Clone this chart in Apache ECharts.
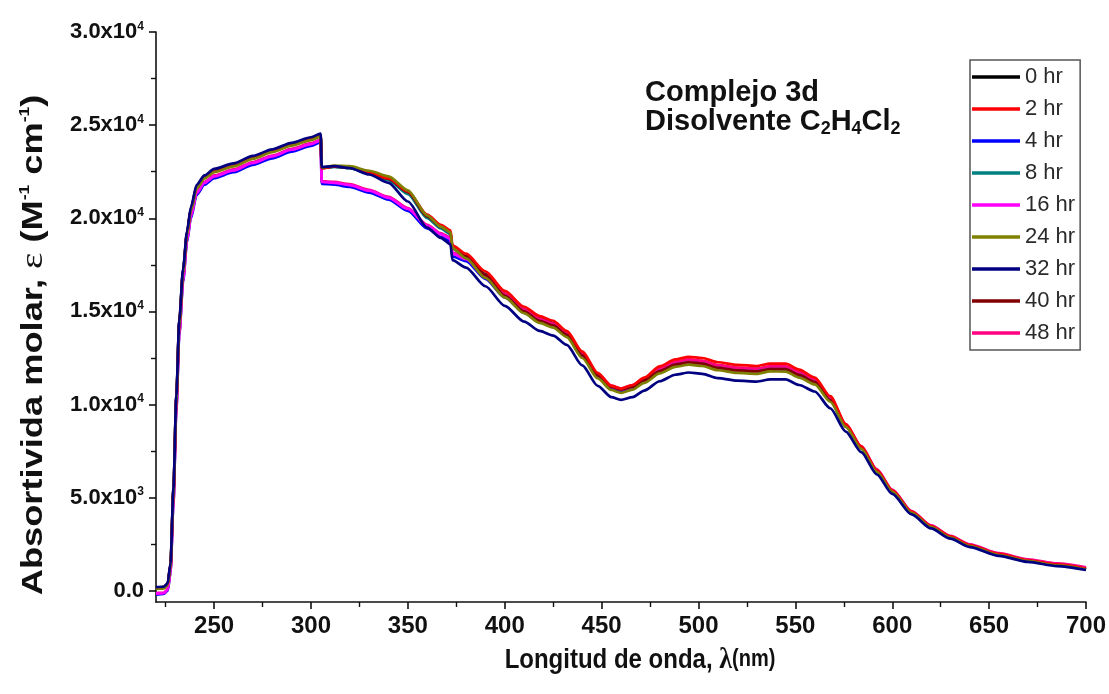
<!DOCTYPE html>
<html>
<head>
<meta charset="utf-8">
<script src="https://cdn.jsdelivr.net/npm/echarts@6/dist/echarts.min.js"></script>
<style>
  html, body { margin: 0; padding: 0; background: #fff; }
  #chart { width: 1109px; height: 694px; }
</style>
</head>
<body>
<div id="chart"></div>
<script>
// Wavelength grid (nm) shared by every spectrum
const wavelength = [220, 224, 226, 227.5, 229, 230.5, 232, 234, 236, 238, 241, 245, 250, 260, 270, 280, 290, 300, 305, 305.5,
  312, 320, 330, 340, 350, 360, 367, 372, 373, 380, 390, 400, 410, 418, 425, 432, 440, 448, 455, 460,
  466, 472, 480, 488, 495, 502, 510, 520, 530, 537, 545, 552, 560, 568, 576, 584, 592, 600, 610, 620,
  630, 640, 655, 670, 685, 700];

// Molar absorptivity (M^-1 cm^-1) for each reaction time
const eps0h = [180, 200, 360, 1400, 5400, 10400, 14400, 17200, 19200, 20500, 21700, 22200, 22550, 22860, 23260, 23610, 23960, 24260, 24450, 22700,
  22770, 22700, 22420, 22100, 21350, 20050, 19500, 19200, 18400, 17950, 17000, 15950, 15100, 14620, 14380, 13850, 12750, 11630, 10950, 10800,
  10980, 11370, 11930, 12280, 12400, 12330, 12100, 11960, 11910, 12030, 12030, 11720, 11320, 10330, 8880, 7700, 6460, 5370, 4220, 3450,
  2890, 2430, 1950, 1610, 1390, 1170];
const eps2h = [120, 150, 330, 1350, 5300, 10300, 14300, 17150, 19150, 20450, 21650, 22170, 22520, 22830, 23230, 23590, 23940, 24240, 24430, 22680,
  22780, 22730, 22480, 22150, 21450, 20200, 19650, 19350, 18550, 18100, 17150, 16100, 15250, 14750, 14500, 13950, 12850, 11700, 11000, 10850,
  11050, 11450, 12050, 12420, 12560, 12500, 12270, 12130, 12070, 12200, 12200, 11880, 11450, 10450, 8950, 7750, 6500, 5400, 4250, 3480,
  2920, 2460, 1980, 1640, 1420, 1200];
const eps4h = [-200, -170, 0, 950, 4700, 9700, 13700, 16600, 18700, 20000, 21250, 21800, 22150, 22470, 22870, 23220, 23580, 23880, 24080, 21850,
  21800, 21680, 21380, 21000, 20400, 19450, 19000, 18750, 17950, 17700, 16750, 15750, 14920, 14430, 14180, 13680, 12580, 11480, 10880, 10730,
  10890, 11240, 11740, 12090, 12210, 12140, 11910, 11770, 11720, 11840, 11840, 11540, 11170, 10220, 8830, 7660, 6430, 5350, 4210, 3440,
  2880, 2420, 1940, 1600, 1380, 1160];
const eps8h = [160, 190, 350, 1380, 5350, 10350, 14350, 17180, 19180, 20480, 21680, 22190, 22540, 22850, 23250, 23600, 23950, 24250, 24440, 22690,
  22760, 22690, 22400, 22050, 21300, 20000, 19450, 19150, 18350, 17900, 16950, 15900, 15050, 14580, 14340, 13810, 12720, 11600, 10920, 10770,
  10940, 11320, 11880, 12230, 12350, 12280, 12050, 11910, 11860, 11980, 11980, 11680, 11280, 10300, 8860, 7680, 6440, 5350, 4200, 3440,
  2880, 2420, 1940, 1600, 1380, 1160];
const eps16h = [-150, -120, 50, 1000, 4800, 9800, 13800, 16700, 18800, 20100, 21350, 21900, 22250, 22570, 22970, 23320, 23680, 23980, 24180, 21950,
  21900, 21780, 21480, 21100, 20500, 19600, 19150, 18900, 18100, 17800, 16850, 15850, 15000, 14500, 14250, 13750, 12650, 11550, 10950, 10800,
  10950, 11300, 11800, 12150, 12270, 12200, 11970, 11830, 11780, 11900, 11900, 11600, 11220, 10280, 8880, 7720, 6490, 5400, 4250, 3490,
  2930, 2470, 1990, 1650, 1430, 1210];
const eps24h = [100, 130, 300, 1300, 5200, 10200, 14200, 17100, 19100, 20400, 21600, 22130, 22480, 22790, 23190, 23550, 23900, 24200, 24400, 22720,
  22830, 22800, 22550, 22250, 21500, 20150, 19550, 19250, 18400, 17850, 16800, 15750, 14900, 14380, 14130, 13620, 12500, 11400, 10780, 10630,
  10800, 11160, 11670, 12020, 12140, 12070, 11840, 11700, 11650, 11780, 11770, 11450, 11080, 10150, 8800, 7620, 6390, 5320, 4180, 3420,
  2860, 2400, 1920, 1590, 1370, 1150];
const eps32h = [200, 220, 400, 1500, 5500, 10500, 14500, 17300, 19300, 20600, 21800, 22300, 22650, 22950, 23350, 23700, 24050, 24350, 24550, 22750,
  22800, 22700, 22350, 21900, 20900, 19500, 18950, 18600, 17750, 17350, 16350, 15300, 14450, 13950, 13700, 13200, 12100, 11000, 10400, 10250,
  10400, 10750, 11250, 11600, 11720, 11650, 11420, 11280, 11230, 11350, 11350, 11050, 10700, 9800, 8550, 7450, 6250, 5200, 4100, 3350,
  2800, 2350, 1880, 1550, 1330, 1120];
const eps40h = [170, 200, 370, 1420, 5420, 10420, 14420, 17220, 19220, 20520, 21720, 22220, 22570, 22870, 23270, 23620, 23970, 24270, 24470, 22710,
  22790, 22720, 22450, 22120, 21400, 20100, 19550, 19250, 18450, 17950, 16950, 15850, 15000, 14500, 14250, 13750, 12650, 11550, 10950, 10800,
  10950, 11300, 11800, 12150, 12270, 12200, 11970, 11830, 11780, 11900, 11900, 11600, 11220, 10250, 8850, 7680, 6450, 5370, 4230, 3460,
  2900, 2440, 1960, 1620, 1400, 1180];
const eps48h = [-120, -100, 80, 1050, 4850, 9850, 13850, 16750, 18850, 20150, 21400, 21950, 22300, 22620, 23020, 23370, 23730, 24030, 24230, 22000,
  21950, 21830, 21520, 21150, 20550, 19650, 19200, 18950, 18150, 17900, 16950, 15950, 15100, 14600, 14350, 13850, 12750, 11650, 11020, 10870,
  11050, 11420, 11950, 12300, 12420, 12350, 12120, 11980, 11930, 12050, 12050, 11750, 11360, 10400, 8950, 7770, 6530, 5440, 4280, 3510,
  2950, 2500, 2020, 1690, 1470, 1260];

const seriesNames = ['0 hr', '2 hr', '4 hr', '8 hr', '16 hr', '24 hr', '32 hr', '40 hr', '48 hr'];
const seriesValues = [eps0h, eps2h, eps4h, eps8h, eps16h, eps24h, eps32h, eps40h, eps48h];
const seriesColors = ['#000000', '#ff0000', '#0000ff', '#008080', '#ff00ff', '#808000', '#000080', '#800000', '#ff0080'];
// Stacking order of the lines (later ones are painted over earlier ones)
const paintOrder = [0, 3, 2, 8, 4, 7, 1, 5, 6];

// Axis ticks and labels
const xMajorTicks = [250, 300, 350, 400, 450, 500, 550, 600, 650, 700];
const xMinorTicks = [225, 275, 325, 375, 425, 475, 525, 575, 625, 675];
const yMajorTicks = [0, 5000, 10000, 15000, 20000, 25000, 30000];
const yMinorTicks = [2500, 7500, 12500, 17500, 22500, 27500];
const yTickMantissa = ['0.0', '5.0', '1.0', '1.5', '2.0', '2.5', '3.0'];
const yTickExponent = ['', '3', '4', '4', '4', '4', '4'];

const X_MIN = 220, X_MAX = 700, Y_MIN = -600, Y_MAX = 30000;

const chart = echarts.init(document.getElementById('chart'), null, { renderer: 'canvas' });

const series = paintOrder.map((i) => ({
  name: seriesNames[i],
  type: 'line',
  xAxisIndex: 0,
  yAxisIndex: 0,
  data: wavelength.map((w, k) => [w, seriesValues[i][k]]),
  showSymbol: false,
  symbol: 'none',
  smooth: 0.25,
  smoothMonotone: 'x',
  lineStyle: { color: seriesColors[i], width: 2.7 },
  itemStyle: { color: seriesColors[i] },
  emphasis: { disabled: true },
  z: 2
}));

const axisColor = '#111';
const labelFont = "'Liberation Sans', Arial, sans-serif";
const narrowFont = "'Liberation Sans Narrow', 'Liberation Sans', Arial, sans-serif";

chart.setOption({
  animation: false,
  backgroundColor: '#ffffff',
  grid: { left: 156, right: 23, top: 32, bottom: 92, outerBoundsMode: 'none' },
  xAxis: [
    {
      type: 'value', min: X_MIN, max: X_MAX, position: 'bottom',
      axisLine: { show: true, onZero: false, lineStyle: { color: axisColor, width: 1.6 } },
      axisTick: { show: true, inside: false, length: 7, customValues: xMajorTicks, lineStyle: { color: axisColor, width: 1.6 } },
      axisLabel: { show: true, customValues: xMajorTicks, margin: 12, color: '#111', fontFamily: narrowFont, fontWeight: 'bold', fontSize: 24 },
      splitLine: { show: false }
    },
    {
      type: 'value', min: X_MIN, max: X_MAX, position: 'bottom',
      axisLine: { show: false, onZero: false },
      axisTick: { show: true, inside: false, length: 5, customValues: xMinorTicks, lineStyle: { color: axisColor, width: 1.4 } },
      axisLabel: { show: false },
      splitLine: { show: false }
    }
  ],
  yAxis: [
    {
      type: 'value', min: Y_MIN, max: Y_MAX, position: 'left',
      axisLine: { show: true, onZero: false, lineStyle: { color: axisColor, width: 1.6 } },
      axisTick: { show: true, inside: false, length: 7, customValues: yMajorTicks, lineStyle: { color: axisColor, width: 1.6 } },
      axisLabel: {
        show: true, customValues: yMajorTicks, margin: 12,
        formatter: function (v) {
          const i = yMajorTicks.indexOf(v);
          if (i < 0) return '';
          if (!yTickExponent[i]) return '{m|' + yTickMantissa[i] + '}';
          return '{m|' + yTickMantissa[i] + 'x10}{s|' + yTickExponent[i] + '}';
        },
        rich: {
          m: { fontFamily: labelFont, fontWeight: 'bold', fontSize: 22, color: '#111' },
          s: { fontFamily: labelFont, fontWeight: 'bold', fontSize: 12, color: '#111', verticalAlign: 'top', padding: [0, 0, 11, 0] }
        }
      },
      splitLine: { show: false }
    },
    {
      type: 'value', min: Y_MIN, max: Y_MAX, position: 'left',
      axisLine: { show: false, onZero: false },
      axisTick: { show: true, inside: false, length: 5, customValues: yMinorTicks, lineStyle: { color: axisColor, width: 1.4 } },
      axisLabel: { show: false },
      splitLine: { show: false }
    }
  ],
  legend: {
    orient: 'vertical',
    left: 970, top: 60,
    padding: [6, 5, 6, 2],
    itemGap: 10,
    itemWidth: 48, itemHeight: 3.5,
    icon: 'rect',
    borderColor: '#555', borderWidth: 1.5,
    selectedMode: false,
    textStyle: { fontFamily: narrowFont, fontSize: 22, color: '#2a2a2a', lineHeight: 22, padding: [0, 0, 0, 0] },
    data: seriesNames
  },
  graphic: [
    {
      type: 'text', left: 645, top: 78,
      style: {
        text: 'Complejo 3d',
        font: "bold 29px 'Liberation Sans', Arial, sans-serif",
        fill: '#111'
      }
    },
    {
      type: 'text', left: 645, top: 107,
      style: {
        text: '{t|Disolvente C}{sub|2}{t|H}{sub|4}{t|Cl}{sub|2}',
        rich: {
          t: { font: "bold 29px 'Liberation Sans', Arial, sans-serif", fill: '#111' },
          sub: { font: "bold 18px 'Liberation Sans', Arial, sans-serif", fill: '#111', verticalAlign: 'bottom', padding: [16, 0, 0, 0] }
        }
      }
    },
    {
      type: 'text', x: 34, y: 345, rotation: Math.PI / 2, scaleX: 1.25, scaleY: 1,
      style: {
        text: '{b|Absortivida molar, }{e|\u03b5}{b| (M}{s|-1}{b| cm}{s|-1}{b|)}',
        align: 'center', verticalAlign: 'middle',
        rich: {
          b: { font: "bold 29px 'Liberation Sans', Arial, sans-serif", fill: '#111' },
          e: { font: "31px 'Liberation Serif', 'Times New Roman', serif", fill: '#111' },
          s: { font: "bold 14px 'Liberation Sans', Arial, sans-serif", fill: '#111', verticalAlign: 'top', padding: [0, 0, 13, 0] }
        }
      }
    },
    {
      type: 'text', x: 640, y: 660, scaleX: 1, scaleY: 1.15,
      style: {
        text: '{b|Longitud de onda, }{l|\u03bb}{n|(nm)}',
        align: 'center', verticalAlign: 'middle',
        rich: {
          b: { font: "bold 24px 'Liberation Sans', Arial, sans-serif", fill: '#111' },
          l: { font: "bold 26px 'Liberation Serif', 'Times New Roman', serif", fill: '#111' },
          n: { font: "bold 20px 'Liberation Sans Narrow', 'Liberation Sans', Arial, sans-serif", fill: '#111' }
        }
      }
    }
  ],
  series: series
});
</script>
</body>
</html>
